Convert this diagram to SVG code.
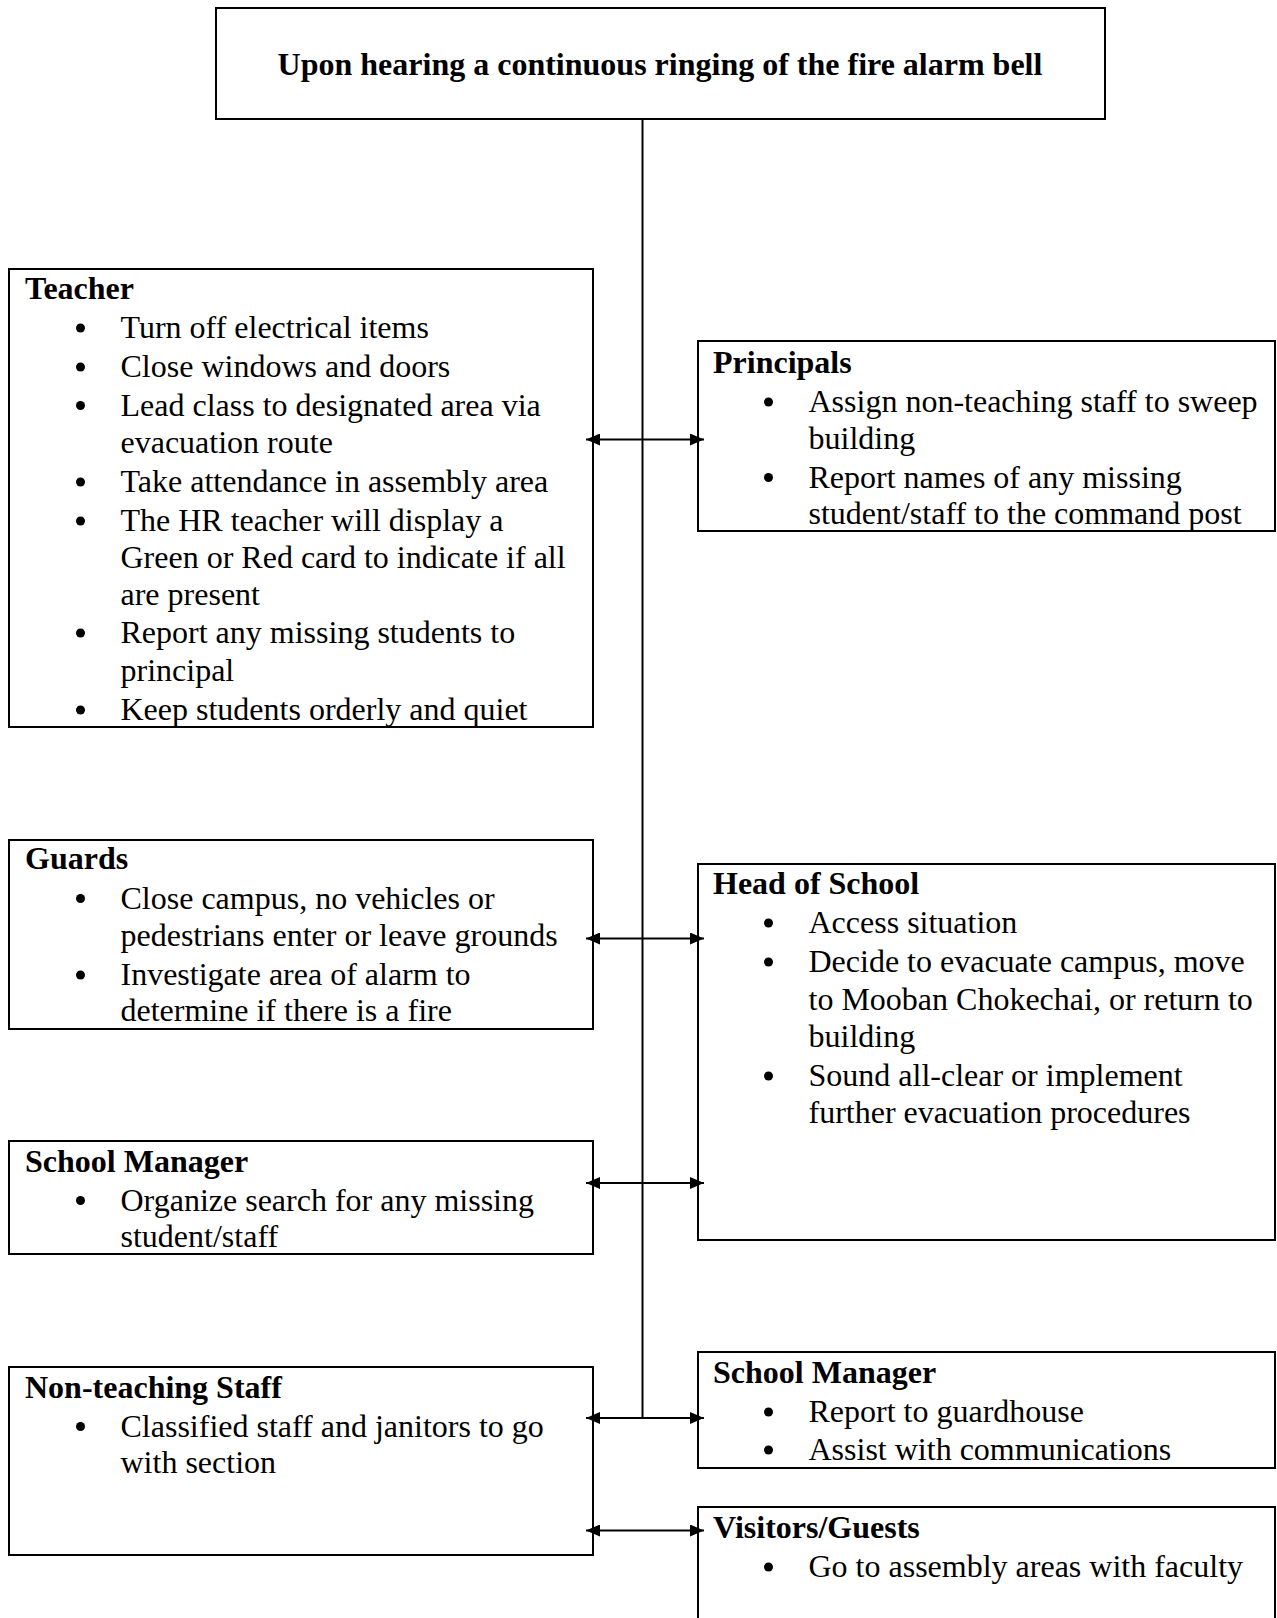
<svg xmlns="http://www.w3.org/2000/svg" width="1277" height="1618" viewBox="0 0 1277 1618">
<style>
.box{fill:#fff;stroke:#000;stroke-width:2}
.t{font-family:"Liberation Serif","Times New Roman",serif;font-size:32px;fill:#000}
.h{font-family:"Liberation Serif","Times New Roman",serif;font-size:32px;font-weight:bold;fill:#000}
.b{fill:#000}
.c{stroke:#000;stroke-width:2;fill:none}
</style>
<defs>
<marker id="ah" viewBox="0 0 14 12" refX="14" refY="6" markerWidth="14" markerHeight="12" markerUnits="userSpaceOnUse" orient="auto-start-reverse"><path d="M0,0 L14,6 L0,12 z" fill="#000"/></marker>
</defs>
<rect width="1277" height="1618" fill="#fff"/>
<g id="start">
<rect class="box" x="216" y="8" width="889" height="111"/>
<text class="h" x="660" y="75" text-anchor="middle">Upon hearing a continuous ringing of the fire alarm bell</text>
</g>
<g id="teacher">
<rect class="box" x="9" y="269" width="584" height="458"/>
<text class="h" x="25" y="299">Teacher</text>
<circle class="b" cx="80.5" cy="328" r="4.5"/>
<text class="t" x="120.5" y="338">Turn off electrical items</text>
<circle class="b" cx="80.5" cy="367" r="4.5"/>
<text class="t" x="120.5" y="377">Close windows and doors</text>
<circle class="b" cx="80.5" cy="405.5" r="4.5"/>
<text class="t" x="120.5" y="415.5">Lead class to designated area via</text>
<text class="t" x="120.5" y="452.5">evacuation route</text>
<circle class="b" cx="80.5" cy="482" r="4.5"/>
<text class="t" x="120.5" y="492">Take attendance in assembly area</text>
<circle class="b" cx="80.5" cy="521" r="4.5"/>
<text class="t" x="120.5" y="531">The HR teacher will display a</text>
<text class="t" x="120.5" y="568">Green or Red card to indicate if all</text>
<text class="t" x="120.5" y="605">are present</text>
<circle class="b" cx="80.5" cy="633" r="4.5"/>
<text class="t" x="120.5" y="643">Report any missing students to</text>
<text class="t" x="120.5" y="680.5">principal</text>
<circle class="b" cx="80.5" cy="710" r="4.5"/>
<text class="t" x="120.5" y="720">Keep students orderly and quiet</text>
</g>
<g id="principals">
<rect class="box" x="698" y="341" width="577" height="190"/>
<text class="h" x="713" y="373">Principals</text>
<circle class="b" cx="768.5" cy="402" r="4.5"/>
<text class="t" x="808.5" y="412">Assign non-teaching staff to sweep</text>
<text class="t" x="808.5" y="448.5">building</text>
<circle class="b" cx="768.5" cy="477.5" r="4.5"/>
<text class="t" x="808.5" y="487.5">Report names of any missing</text>
<text class="t" x="808.5" y="523.5">student/staff to the command post</text>
</g>
<g id="guards">
<rect class="box" x="9" y="840" width="584" height="189"/>
<text class="h" x="25" y="869">Guards</text>
<circle class="b" cx="80.5" cy="898.5" r="4.5"/>
<text class="t" x="120.5" y="908.5">Close campus, no vehicles or</text>
<text class="t" x="120.5" y="945.5">pedestrians enter or leave grounds</text>
<circle class="b" cx="80.5" cy="975" r="4.5"/>
<text class="t" x="120.5" y="985">Investigate area of alarm to</text>
<text class="t" x="120.5" y="1021">determine if there is a fire</text>
</g>
<g id="head-of-school">
<rect class="box" x="698" y="864" width="577" height="376"/>
<text class="h" x="713" y="894">Head of School</text>
<circle class="b" cx="768.5" cy="923" r="4.5"/>
<text class="t" x="808.5" y="933">Access situation</text>
<circle class="b" cx="768.5" cy="962" r="4.5"/>
<text class="t" x="808.5" y="972">Decide to evacuate campus, move</text>
<text class="t" x="808.5" y="1009.5">to Mooban Chokechai, or return to</text>
<text class="t" x="808.5" y="1046.5">building</text>
<circle class="b" cx="768.5" cy="1076" r="4.5"/>
<text class="t" x="808.5" y="1086">Sound all-clear or implement</text>
<text class="t" x="808.5" y="1123">further evacuation procedures</text>
</g>
<g id="school-manager-left">
<rect class="box" x="9" y="1141" width="584" height="113"/>
<text class="h" x="25" y="1171.5">School Manager</text>
<circle class="b" cx="80.5" cy="1200.5" r="4.5"/>
<text class="t" x="120.5" y="1210.5">Organize search for any missing</text>
<text class="t" x="120.5" y="1247">student/staff</text>
</g>
<g id="non-teaching-staff">
<rect class="box" x="9" y="1367" width="584" height="188"/>
<text class="h" x="25" y="1397.5">Non-teaching Staff</text>
<circle class="b" cx="80.5" cy="1426.5" r="4.5"/>
<text class="t" x="120.5" y="1436.5">Classified staff and janitors to go</text>
<text class="t" x="120.5" y="1473">with section</text>
</g>
<g id="school-manager-right">
<rect class="box" x="698" y="1352" width="577" height="116"/>
<text class="h" x="713" y="1383">School Manager</text>
<circle class="b" cx="768.5" cy="1412" r="4.5"/>
<text class="t" x="808.5" y="1422">Report to guardhouse</text>
<circle class="b" cx="768.5" cy="1450" r="4.5"/>
<text class="t" x="808.5" y="1460">Assist with communications</text>
</g>
<g id="visitors-guests">
<rect class="box" x="698" y="1507" width="577" height="125"/>
<text class="h" x="713" y="1537.5">Visitors/Guests</text>
<circle class="b" cx="768.5" cy="1567" r="4.5"/>
<text class="t" x="808.5" y="1577">Go to assembly areas with faculty</text>
</g>
<g id="connectors">
<line class="c" x1="642.5" y1="119" x2="642.5" y2="1418"/>
<line class="c" x1="586" y1="439.5" x2="704" y2="439.5" marker-start="url(#ah)" marker-end="url(#ah)"/>
<line class="c" x1="586" y1="938.5" x2="704" y2="938.5" marker-start="url(#ah)" marker-end="url(#ah)"/>
<line class="c" x1="586" y1="1183" x2="704" y2="1183" marker-start="url(#ah)" marker-end="url(#ah)"/>
<line class="c" x1="586" y1="1418" x2="704" y2="1418" marker-start="url(#ah)" marker-end="url(#ah)"/>
<line class="c" x1="586" y1="1530.5" x2="704" y2="1530.5" marker-start="url(#ah)" marker-end="url(#ah)"/>
</g>
</svg>
